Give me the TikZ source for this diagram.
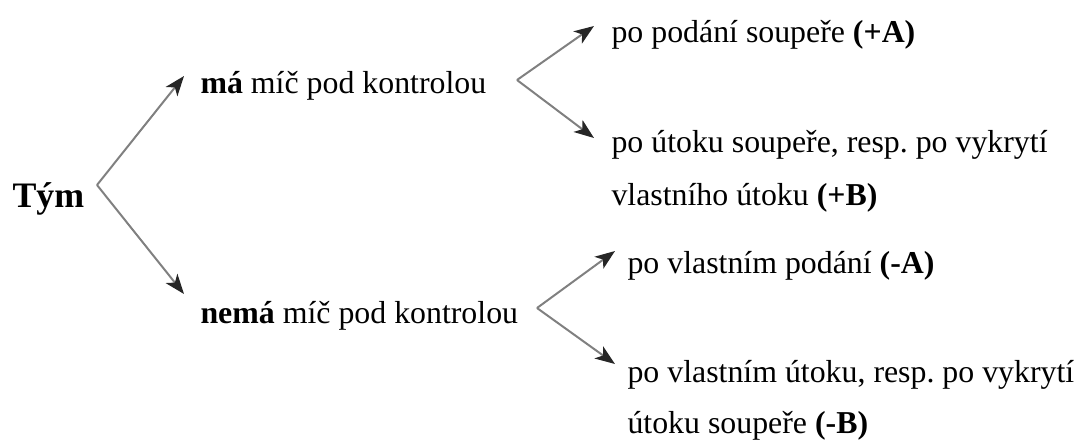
\documentclass[tikz,border=0pt]{standalone}
\usepackage{fontspec}
\setmainfont{Liberation Serif}
\usetikzlibrary{arrows.meta}
\frenchspacing

\begin{document}
\begin{tikzpicture}[x=0.3768pt,y=-0.3768pt,
    txt/.style={anchor=base west,inner sep=0pt,font=\fontsize{12}{14}\selectfont},
    arr/.style={-{Stealth[length=7.5pt,width=5.6pt,inset=2pt,color=black!85]},draw=black!50,line width=0.75pt}]

    \useasboundingbox (0,0) rectangle (1078,439);

    \node[txt,font=\fontsize{13.5}{15}\selectfont\bfseries] (tym) at (12,207) {Tým};

    \node[txt] (ma) at (200,93) {\textbf{má} míč pod kontrolou};
    \node[txt] (nema) at (200,323) {\textbf{nemá} míč pod kontrolou};

    \node[txt] (plusA) at (611,42) {po podání soupeře \textbf{(+A)}};
    \node[txt] (plusB) at (611,152) {po útoku soupeře, resp. po vykrytí};
    \node[txt] (plusBb) at (611,205) {vlastního útoku \textbf{(+B)}};

    \node[txt] (minusA) at (627,273) {po vlastním podání \textbf{(-A)}};
    \node[txt] (minusB) at (627,382) {po vlastním útoku, resp. po vykrytí};
    \node[txt] (minusBb) at (627,433) {útoku soupeře \textbf{(-B)}};

    % forks
    \coordinate (tymR) at (97,185);
    \coordinate (maL) at (184,76);
    \coordinate (nemaL) at (184,294);
    \coordinate (maR) at (517,80);
    \coordinate (plusAL) at (594,26);
    \coordinate (plusBL) at (594,138);
    \coordinate (nemaR) at (537,308);
    \coordinate (minusAL) at (615,251);
    \coordinate (minusBL) at (615,364);

    \draw [arr] (tymR) -- (maL);
    \draw [arr] (tymR) -- (nemaL);
    \draw [arr] (maR) -- (plusAL);
    \draw [arr] (maR) -- (plusBL);
    \draw [arr] (nemaR) -- (minusAL);
    \draw [arr] (nemaR) -- (minusBL);

\end{tikzpicture}
\end{document}
